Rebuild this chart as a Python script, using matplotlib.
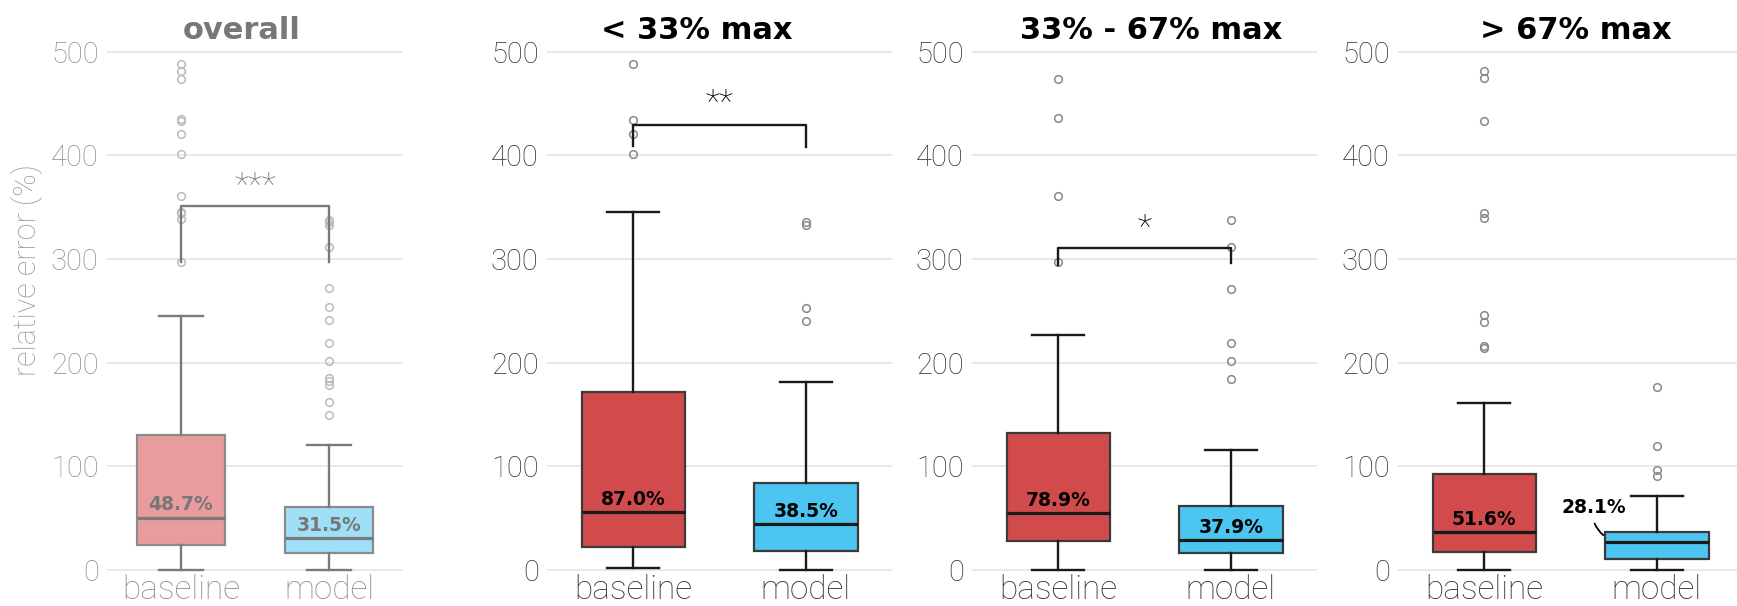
import matplotlib
matplotlib.use("Agg")
import matplotlib.pyplot as plt

# panel order: overall, <33%, 33-67%, >67%
titles = ["overall", "< 33% max", "33% - 67% max", "> 67% max"]
groups = ["baseline", "model"]

# box stats (relative error, %)
base_q1 = [23.6, 21.4, 28.0, 16.9]
base_med = [50.2, 55.1, 54.3, 36.4]
base_q3 = [130.4, 171.7, 132.0, 91.8]
base_lo = [0.0, 1.5, 0.0, 0.0]
base_hi = [244.8, 345.6, 226.8, 160.4]
base_fliers = [
    [488, 481.6, 474, 434.8, 433, 420.5, 401.8, 360.6, 345.6, 344, 338.8, 297.2],
    [488.8, 434, 421, 401.8],
    [474, 436, 360.6, 297],
    [481.6, 474.9, 433, 344.8, 340, 245.5, 238.8, 215.5, 214.4],
]
base_label = ["48.7%", "87.0%", "78.9%", "51.6%"]

model_q1 = [15.7, 18.0, 15.7, 10.5]
model_med = [30.0, 43.9, 28.9, 26.2]
model_q3 = [60.0, 83.2, 61.8, 36.4]
model_lo = [0.0, 0.0, 0.0, 0.0]
model_hi = [120.3, 181.0, 115.4, 70.8]
model_fliers = [
    [338, 335.5, 333, 312, 271.7, 253.7, 240.6, 219, 201.6, 185.5, 182.5, 178, 162, 148.8],
    [335.5, 333, 253, 240],
    [338, 312, 271, 218.5, 201, 184.4],
    [176, 119, 96, 90.7],
]
model_label = ["31.5%", "38.5%", "37.9%", "28.1%"]

# significance brackets: bar height, left/right leg ends, stars
sig_bar = [351, 429, 310.7, None]
sig_left = [297, 409, 294, None]
sig_right = [297, 408.5, 296, None]
sig_text = ["***", "**", "*", None]
sig_text_y = [370, 450, 329, None]

title_x = [0.456, 0.433, 0.52, 0.516]

fig = plt.figure(figsize=(17.37, 6.06), dpi=100)
W, H = 1737, 606
# y=0 at 569.5 px, y=500 at 52 px -> ylim(-8, 508)
bottom = (H - 577.8) / H
height = (577.8 - 43.7) / H
lefts = [107, 547, 972, 1398]
widths = [296, 345, 345, 345]

for i in range(4):
    ax = fig.add_axes([lefts[i] / W, bottom, widths[i] / W, height])
    faded = i == 0
    edge = "#7a7a7a" if faded else "#1a1a1a"
    boxedge = "#8a8a8a" if faded else "#3a3a3a"
    txtc = "#777777" if faded else "black"
    tickc = "#8f8f8f" if faded else "#333333"
    fills = ["#e89c9e", "#9fe0f8"] if faded else ["#d24b4c", "#4cc5f0"]
    flc = "#bbbbbb" if faded else "#888888"

    stats = [
        dict(q1=base_q1[i], med=base_med[i], q3=base_q3[i], whislo=base_lo[i],
             whishi=base_hi[i], fliers=base_fliers[i], label=groups[0]),
        dict(q1=model_q1[i], med=model_med[i], q3=model_q3[i], whislo=model_lo[i],
             whishi=model_hi[i], fliers=model_fliers[i], label=groups[1]),
    ]
    bp = ax.bxp(stats, positions=[0, 1], widths=0.6, patch_artist=True,
                boxprops=dict(edgecolor=boxedge, linewidth=1.6),
                whiskerprops=dict(color=edge, linewidth=1.7),
                capprops=dict(color=edge, linewidth=1.7),
                medianprops=dict(color=edge, linewidth=2.3),
                flierprops=dict(marker="o", markersize=5.5, markerfacecolor="none",
                                markeredgecolor=flc, markeredgewidth=1.1),
                capwidths=0.3)
    for patch, c in zip(bp["boxes"], fills):
        patch.set_facecolor(c)
    for cap in bp["caps"]:
        cap.set_clip_on(False)

    ax.set_xlim(-0.5, 1.5)
    ax.set_ylim(-8, 508)
    ax.set_yticks([0, 100, 200, 300, 400, 500])
    ax.grid(axis="y", color="#e6e6e6", linewidth=1.3)
    ax.set_axisbelow(True)
    for s in ax.spines.values():
        s.set_visible(False)
    ax.tick_params(axis="both", length=0)
    ax.tick_params(axis="y", pad=6, labelsize=21, labelcolor=tickc)
    ax.tick_params(axis="x", pad=-3, labelsize=24, labelcolor=tickc)
    for lab in ax.get_yticklabels() + ax.get_xticklabels():
        lab.set_family("Roboto")
        lab.set_fontweight("light")

    ax.text(title_x[i], 1.008, titles[i], transform=ax.transAxes, ha="center",
            va="baseline", fontsize=22, fontweight="bold", color=txtc,
            family="DejaVu Sans")

    # median / mean labels
    ax.text(0, base_med[i] + 3, base_label[i], ha="center", va="bottom",
            fontsize=13.5, fontweight="bold", color=txtc, family="DejaVu Sans")
    if i < 3:
        ax.text(1, model_med[i] + 3, model_label[i], ha="center", va="bottom",
                fontsize=13.5, fontweight="bold", color=txtc, family="DejaVu Sans")
    else:
        ax.annotate(model_label[i], xy=(0.69, model_med[i] + 7),
                    xytext=(0.635, model_med[i] + 34), ha="center", va="center",
                    fontsize=13.5, fontweight="bold", color=txtc, family="DejaVu Sans",
                    arrowprops=dict(arrowstyle="-", color="black", lw=1.3,
                                    shrinkA=3, shrinkB=0,
                                    connectionstyle="arc3,rad=0.3"))

    if sig_bar[i] is not None:
        ax.plot([0, 0, 1, 1], [sig_left[i], sig_bar[i], sig_bar[i], sig_right[i]],
                color=edge, linewidth=1.7)
        ax.text(0.5, sig_text_y[i], sig_text[i], ha="center", va="center",
                fontsize=24, color=txtc, family="Roboto", fontweight="light")

    if i == 0:
        ax.set_ylabel("relative error (%)", fontsize=22, color="#9a9a9a",
                      family="Roboto", fontweight="light", labelpad=8)
        ax.yaxis.set_label_coords(-0.215, 0.576)

fig.savefig("out.png", dpi=100)
